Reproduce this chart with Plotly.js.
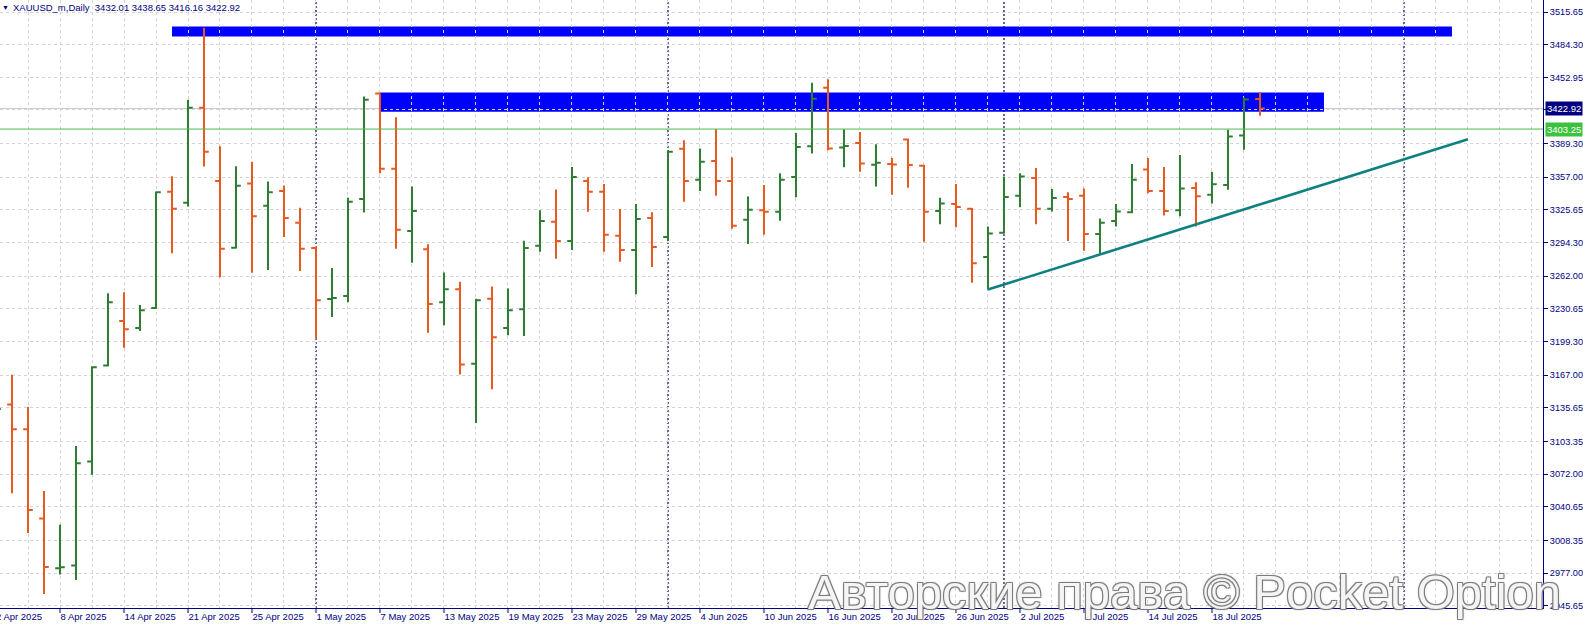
<!DOCTYPE html>
<html>
<head>
<meta charset="utf-8">
<script src="https://cdn.plot.ly/plotly-3.0.1.min.js"></script>
<style>
html,body{margin:0;padding:0;background:#ffffff;overflow:hidden}
#chart{width:1583px;height:627px}
</style>
</head>
<body>
<div id="chart"></div>
<script>
// ---------- data ----------
const dates = [
  "2 Apr 2025","3 Apr 2025","4 Apr 2025","7 Apr 2025","8 Apr 2025","9 Apr 2025","10 Apr 2025","11 Apr 2025",
  "14 Apr 2025","15 Apr 2025","16 Apr 2025","17 Apr 2025","21 Apr 2025","22 Apr 2025","23 Apr 2025","24 Apr 2025",
  "25 Apr 2025","28 Apr 2025","29 Apr 2025","30 Apr 2025","1 May 2025","2 May 2025","5 May 2025","6 May 2025",
  "7 May 2025","8 May 2025","9 May 2025","12 May 2025","13 May 2025","14 May 2025","15 May 2025","16 May 2025",
  "19 May 2025","20 May 2025","21 May 2025","22 May 2025","23 May 2025","26 May 2025","27 May 2025","28 May 2025",
  "29 May 2025","30 May 2025","2 Jun 2025","3 Jun 2025","4 Jun 2025","5 Jun 2025","6 Jun 2025","9 Jun 2025",
  "10 Jun 2025","11 Jun 2025","12 Jun 2025","13 Jun 2025","16 Jun 2025","17 Jun 2025","18 Jun 2025","19 Jun 2025",
  "20 Jun 2025","23 Jun 2025","24 Jun 2025","25 Jun 2025","26 Jun 2025","27 Jun 2025","30 Jun 2025","1 Jul 2025",
  "2 Jul 2025","3 Jul 2025","4 Jul 2025","7 Jul 2025","8 Jul 2025","9 Jul 2025","10 Jul 2025","11 Jul 2025",
  "14 Jul 2025","15 Jul 2025","16 Jul 2025","17 Jul 2025","18 Jul 2025","21 Jul 2025","22 Jul 2025","23 Jul 2025"
];

const openP = [
  3112.0,3138.9,3115.1,3029.4,2981.5,2984.2,3084.1,3176.3,
  3218.9,3212.2,3231.4,3343.1,3332.4,3423.8,3353.4,3289.4,
  3351.0,3329.6,3343.8,3313.2,3289.0,3240.0,3243.1,3336.0,
  3437.3,3365.1,3305.4,3287.9,3237.1,3249.5,3178.0,3240.3,
  3212.2,3230.3,3291.2,3314.3,3295.8,3353.4,3343.1,3300.8,
  3287.2,3317.8,3299.7,3384.3,3354.5,3372.6,3353.4,3316.1,
  3325.3,3323.9,3357.3,3386.8,3443.0,3385.5,3390.0,3369.0,
  3369.8,3393.2,3368.0,3324.6,3331.3,3326.7,3280.5,3303.6,
  3339.2,3356.2,3326.7,3338.0,3339.2,3302.5,3315.0,3323.5,
  3364.4,3343.8,3325.3,3346.6,3340.2,3349.5,3397.2,3432.01
];
const highP = [
  3149.0,3167.4,3136.4,3055.7,3023.3,3099.1,3175.6,3245.6,
  3246.7,3234.3,3343.4,3358.0,3431.3,3500.5,3386.8,3367.6,
  3371.9,3353.0,3349.1,3327.8,3290.4,3269.8,3337.4,3434.5,
  3437.7,3414.6,3348.1,3292.6,3265.5,3256.6,3240.3,3252.0,
  3250.2,3296.1,3325.3,3345.2,3366.9,3357.0,3350.6,3326.4,
  3331.3,3323.5,3382.9,3392.5,3384.7,3403.2,3376.2,3338.5,
  3349.5,3360.9,3399.6,3447.7,3451.2,3403.2,3400.4,3388.6,
  3375.5,3394.3,3369.1,3337.4,3350.6,3327.4,3309.6,3357.7,
  3360.9,3365.9,3345.6,3342.7,3346.3,3317.5,3331.3,3369.8,
  3375.5,3366.9,3378.3,3352.3,3362.3,3402.5,3433.6,3438.65
];
const lowP = [
  3100.0,3053.5,3015.5,2956.8,2975.6,2970.3,3071.3,3175.6,
  3193.3,3209.3,3230.7,3284.0,3328.9,3367.3,3260.9,3288.7,
  3265.2,3268.0,3299.7,3267.0,3202.2,3222.9,3237.1,3323.2,
  3360.9,3288.3,3274.8,3207.6,3215.0,3167.7,3121.1,3153.5,
  3205.4,3204.7,3285.5,3278.7,3287.2,3323.9,3285.5,3275.9,
  3244.6,3270.9,3295.8,3333.5,3343.8,3339.2,3307.5,3292.9,
  3301.8,3315.3,3337.8,3379.7,3382.9,3366.6,3362.3,3348.1,
  3340.2,3347.0,3295.0,3311.8,3309.0,3255.6,3249.2,3302.9,
  3328.1,3311.8,3324.2,3295.8,3286.5,3283.3,3309.6,3322.4,
  3341.7,3320.3,3319.6,3309.6,3331.7,3344.9,3383.4,3416.16
];
const closeP = [
  3134.6,3115.1,3037.5,2982.8,2982.5,3082.4,3174.5,3237.1,
  3211.1,3229.3,3342.7,3326.7,3423.8,3381.5,3288.3,3348.8,
  3319.6,3342.7,3317.8,3288.3,3238.9,3241.0,3333.5,3431.3,
  3365.1,3306.5,3324.6,3235.3,3249.5,3177.3,3238.9,3203.3,
  3229.3,3289.0,3315.0,3295.8,3357.3,3343.1,3301.8,3287.2,
  3316.8,3290.1,3381.5,3353.4,3371.9,3353.4,3310.4,3325.7,
  3323.9,3354.5,3386.1,3432.4,3384.7,3387.0,3370.1,3371.0,
  3369.2,3368.7,3323.9,3331.7,3328.5,3274.4,3302.9,3338.1,
  3357.7,3326.7,3337.0,3336.0,3302.5,3313.2,3324.2,3354.5,
  3343.8,3324.6,3346.3,3338.8,3350.2,3396.1,3431.7,3422.92
];

// price-axis labels (MT4 style, uneven steps); the one hidden behind the bid label is blank
const yTickVals = [3515.65,3484.30,3452.95,3421.60,3389.30,3357.00,3325.65,3294.30,3262.00,3230.65,
                   3199.30,3167.00,3135.65,3103.35,3072.00,3040.65,3008.35,2977.00,2945.65];
const yTickHidden = [3421.60];

// drawn objects (in bar-index / price units)
const zoneTopIdx = [11, 91];          const zoneTopPrice = [3492.1, 3501.7];
const zoneMidIdx = [24, 83];          const zoneMidPrice = [3419.9, 3438.4];
const trendIdx   = [62, 92];          const trendPrice   = [3249.2, 3393.4];
const levelPrice = 3403.25;
const separatorIdx = [20, 42, 63, 88];
const symbolName = "XAUUSD_m,Daily";
const watermark = "Авторские права © Pocket Option";

// ---------- build ----------
const X_RANGE = [0.25, 96.69];
const barIdx = dates.map((d, i) => i);
const last = dates.length - 1;
const bidPrice = closeP[last];
const labelIdx = barIdx.filter(i => i % 4 === 0 && i >= X_RANGE[0]);
const gridIdx = [];
for (let i = 0; i <= Math.floor(X_RANGE[1]); i += 2) gridIdx.push(i);
const gridTxt = gridIdx.map(i => (i % 4 === 0 && i <= last) ? dates[i] : "");
const yTickText = yTickVals.map(v => yTickHidden.includes(v) ? "" : v.toFixed(2));

const NAVY = "#000080";
const GRID = "#d4d4d4";
const FONT = '"Liberation Sans", Arial, sans-serif';
const PLOT_W = 1543, PLOT_H = 608;

const traces = [
  {
    type: "ohlc",
    x: barIdx, open: openP, high: highP, low: lowP, close: closeP,
    increasing: {line: {color: "#2e7d32", width: 2}},
    decreasing: {line: {color: "#e65a1e", width: 2}},
    tickwidth: 0.3,
    hoverinfo: "skip",
    showlegend: false
  },
  {
    type: "scatter", mode: "lines",
    x: trendIdx, y: trendPrice,
    line: {color: "#0e8080", width: 2.6},
    hoverinfo: "skip", showlegend: false
  }
];

const shapes = [
  {type: "rect", layer: "below", xref: "x", yref: "y",
   x0: zoneTopIdx[0], x1: zoneTopIdx[1], y0: zoneTopPrice[0], y1: zoneTopPrice[1],
   fillcolor: "#0000ff", line: {width: 0}},
  {type: "rect", layer: "below", xref: "x", yref: "y",
   x0: zoneMidIdx[0], x1: zoneMidIdx[1], y0: zoneMidPrice[0], y1: zoneMidPrice[1],
   fillcolor: "#0000ff", line: {width: 0}},
  {type: "line", layer: "below", xref: "paper", yref: "y",
   x0: 0, x1: 1, y0: bidPrice, y1: bidPrice, line: {color: "#c8c8c8", width: 1}},
  {type: "line", layer: "above", xref: "paper", yref: "y",
   x0: 0, x1: 1, y0: levelPrice, y1: levelPrice, line: {color: "#4cb84c", width: 1}}
].concat(separatorIdx.map(i => ({
  type: "line", layer: "between", xref: "x", yref: "paper",
  x0: i, x1: i, y0: 0, y1: 1, line: {color: "#000060", width: 1.2, dash: "2px,2px"}
}))).concat(labelIdx.filter(i => i <= last).map(i => ({
  type: "line", layer: "above", xref: "x", yref: "paper",
  x0: i, x1: i, y0: 0, y1: -5 / PLOT_H, line: {color: NAVY, width: 1}
})));

const pxPerBar = PLOT_W / (X_RANGE[1] - X_RANGE[0]);
const firstLabelPaper = ((0 - X_RANGE[0]) * pxPerBar) / PLOT_W;

const annotations = [
  {xref: "paper", yref: "paper", x: 0, y: 1, xanchor: "left", yanchor: "top",
   text: "▼", showarrow: false, font: {family: FONT, size: 7, color: NAVY}, yshift: -2},
  {xref: "paper", yref: "paper", x: 11 / PLOT_W, y: 1, xanchor: "left", yanchor: "top",
   text: symbolName + "\u00a0\u00a0" + [openP[last], highP[last], lowP[last], closeP[last]].map(v => v.toFixed(2)).join("\u00a0"),
   showarrow: false, font: {family: FONT, size: 9.5, color: NAVY}},
  {xref: "paper", yref: "paper", x: firstLabelPaper, y: 0, xanchor: "left", yanchor: "top", xshift: -2, yshift: -1,
   text: dates[0], showarrow: false, font: {family: FONT, size: 9.5, color: NAVY}},
  {xref: "paper", yref: "y", x: 1, y: bidPrice, xanchor: "left", yanchor: "middle", xshift: 2,
   text: bidPrice.toFixed(2), showarrow: false, bgcolor: NAVY, borderpad: 1,
   font: {family: FONT, size: 9.5, color: "#ffffff"}},
  {xref: "paper", yref: "y", x: 1, y: levelPrice, xanchor: "left", yanchor: "middle", xshift: 2,
   text: levelPrice.toFixed(2), showarrow: false, bgcolor: "#3cc23c", borderpad: 1,
   font: {family: FONT, size: 9.5, color: "#ffffff"}},
  {xref: "paper", yref: "paper", x: 806 / PLOT_W, y: 0.027, xanchor: "left", yanchor: "middle",
   text: watermark, showarrow: false,
   font: {family: FONT, size: 49, color: "rgba(255,255,255,0.92)",
          shadow: "1px 1px 0 #7a7a7a, -1px -1px 0 #7a7a7a, 1px -1px 0 #7a7a7a, -1px 1px 0 #7a7a7a, 0 0 3px #999999"}}
];

const layout = {
  width: 1583, height: 627,
  margin: {l: 0, r: 40, t: 0, b: 19, pad: 0},
  paper_bgcolor: "#ffffff", plot_bgcolor: "#ffffff",
  showlegend: false, hovermode: false, dragmode: false,
  font: {family: FONT, size: 9.5, color: NAVY},
  xaxis: {
    type: "linear", range: X_RANGE, fixedrange: true,
    rangeslider: {visible: false},
    tickmode: "array", tickvals: gridIdx, ticktext: gridTxt,
    ticks: "",
    ticklabelposition: "outside right",
    tickfont: {family: FONT, size: 9.5, color: NAVY},
    showline: true, linecolor: NAVY, linewidth: 1,
    showgrid: true, gridcolor: GRID, gridwidth: 1, griddash: "3px,3px",
    zeroline: false
  },
  yaxis: {
    side: "right", range: [2943.45, 3527.17], fixedrange: true,
    tickmode: "array", tickvals: yTickVals, ticktext: yTickText,
    ticks: "outside", ticklen: 4, tickwidth: 1, tickcolor: NAVY,
    tickfont: {family: FONT, size: 9.2, color: NAVY},
    showline: true, linecolor: NAVY, linewidth: 1,
    showgrid: true, gridcolor: GRID, gridwidth: 1, griddash: "3px,3px",
    zeroline: false
  },
  shapes: shapes,
  annotations: annotations
};

Plotly.newPlot("chart", traces, layout, {staticPlot: true, displayModeBar: false});
</script>
</body>
</html>
